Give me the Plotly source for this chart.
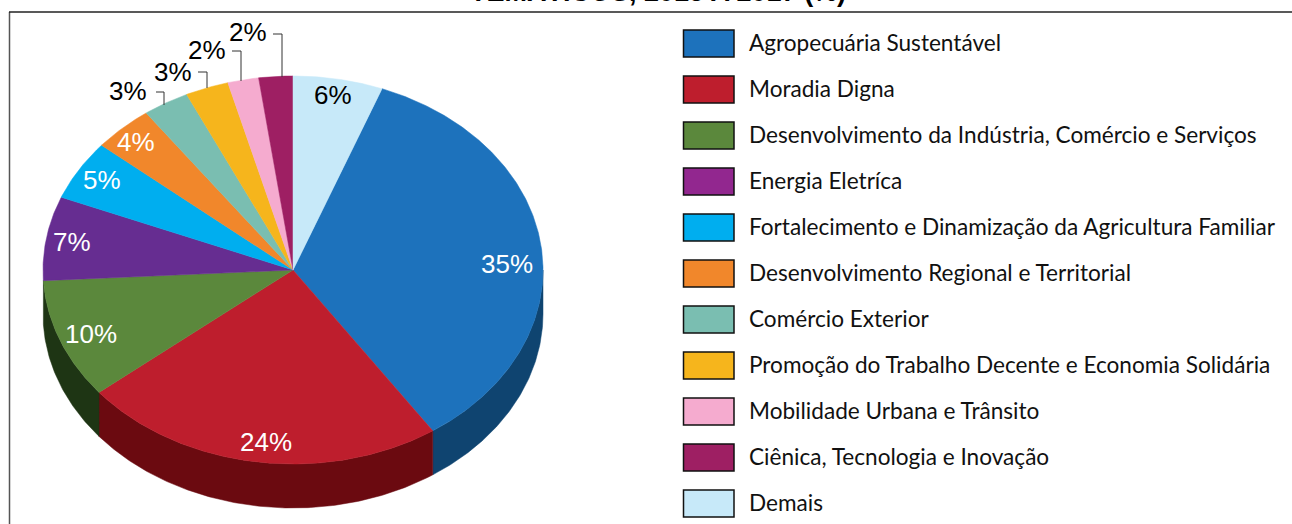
import numpy as np
import plotly.graph_objects as go

categories = ["Agropecuária Sustentável", "Moradia Digna", "Desenvolvimento da Indústria, Comércio e Serviços",
              "Energia Eletríca", "Fortalecimento e Dinamização da Agricultura Familiar",
              "Desenvolvimento Regional e Territorial", "Comércio Exterior",
              "Promoção do Trabalho Decente e Economia Solidária", "Mobilidade Urbana e Trânsito",
              "Ciênica, Tecnologia e Inovação", "Demais"]
values = [34.8, 23.6, 10.0, 7.0, 5.0, 3.9, 3.0, 2.8, 2.0, 2.2, 5.8]
labels = ["35%", "24%", "10%", "7%", "5%", "4%", "3%", "3%", "2%", "2%", "6%"]
title_text = "TEMÁTICOS, 2015 A 2017 (%)"

# styling (kept separate from the data)
pie_colors = ["#1D72BC", "#BE1E2D", "#5B883C", "#662D91", "#00AEEF", "#F1872B", "#7ABEB1", "#F6B51C", "#F5ABCF", "#9E1F63", "#C7E9F9"]
side_colors = ["#0F4470", "#6B0A10", "#1E3514", None, None, None, None, None, None, None, None]
swatch_colors = ["#1D72BC", "#BE1E2D", "#5B883C", "#92278F", "#00AEEF", "#F1872B", "#7ABEB1", "#F6B51C", "#F5ABCF", "#9E1F63", "#C7E9F9"]
label_colors = ["white"] * 6 + ["black"] * 4 + ["black"]
label_xy = [(507, 264), (266, 442), (91, 334), (72, 242), (102, 180), (136, 142), (128, 91), (173, 72), (207, 50), (248, 32), (333, 95)]
leaders = [([156, 164, 164], [92, 92, 105]), ([198, 207, 207], [72, 72, 88]), ([232, 241, 241], [51, 51, 81]), ([273, 282, 282], [34, 34, 77])]
CX, CY, RX, RY, DEPTH = 293, 270, 250, 194, 44

vals = np.array(values, dtype=float)
sweep = vals / vals.sum() * 2 * np.pi
starts = sweep[-1] + np.concatenate(([0], np.cumsum(sweep[:-1])))
ends = starts + sweep

def arc(a, b, dy=0.0):
    n = max(2, int(abs(b - a) / 0.01))
    t = np.linspace(a, b, n)
    return CX + RX * np.sin(t), CY - RY * np.cos(t) + dy

fig = go.Figure()

# extruded side walls (front half of the disc only)
for name, a, b, c in zip(categories, starts, ends, side_colors):
    if c is None:
        continue
    a0, b0 = max(a, np.pi / 2), min(b, 1.5 * np.pi)
    x1, y1 = arc(a0, b0)
    x2, y2 = arc(b0, a0, DEPTH)
    fig.add_trace(go.Scatter(x=np.r_[x1, x2, x1[0]], y=np.r_[y1, y2, y1[0]], mode="lines", fill="toself",
                             fillcolor=c, line=dict(color=c, width=0.5), name=name, hoverinfo="skip", showlegend=False))

# top face
for name, a, b, c, v in zip(categories, starts, ends, pie_colors, labels):
    x, y = arc(a, b)
    fig.add_trace(go.Scatter(x=np.r_[CX, x, CX], y=np.r_[CY, y, CY], mode="lines", fill="toself",
                             fillcolor=c, line=dict(color=c, width=0.5), name=name, text=v, hoverinfo="name+text", showlegend=False))

# leader lines
for lx, ly in leaders:
    fig.add_trace(go.Scatter(x=lx, y=ly, mode="lines", line=dict(color="#333333", width=1), hoverinfo="skip", showlegend=False))

ann = []
for (x, y), t, c in zip(label_xy, labels, label_colors):
    ann.append(dict(x=x, y=y, text=t, showarrow=False, xanchor="center", yanchor="middle",
                    font=dict(family="Liberation Sans", size=26, color=c)))

shapes = [
    dict(type="line", x0=9.5, x1=9.5, y0=12, y1=524, line=dict(color="#555555", width=1.5)),
    dict(type="line", x0=9, x1=1292, y0=12, y1=12, line=dict(color="#222222", width=1.5)),
]
for i, (name, c) in enumerate(zip(categories, swatch_colors)):
    top = 30 + 46 * i
    shapes.append(dict(type="rect", x0=683.5, x1=734, y0=top, y1=top + 27, fillcolor=c,
                       line=dict(color="#111111", width=1.5)))
    ann.append(dict(x=746.5, y=top + 12, text=name, showarrow=False, xanchor="left", yanchor="middle",
                    font=dict(family="Lato", size=22.6, color="#111111")))

ann.append(dict(x=658, y=9, text="<b>" + title_text + "</b>", showarrow=False, xanchor="center", yanchor="bottom",
                font=dict(family="Liberation Sans", size=27, color="black")))

fig.update_layout(width=1292, height=524, margin=dict(l=0, r=0, t=0, b=0), paper_bgcolor="white", plot_bgcolor="white",
                  xaxis=dict(range=[0, 1292], visible=False, fixedrange=True),
                  yaxis=dict(range=[524, 0], visible=False, fixedrange=True),
                  shapes=shapes, annotations=ann, showlegend=False)
fig.write_html("out.html", config=dict(displayModeBar=False),
               post_script="document.body.style.margin='0';document.documentElement.style.overflow='hidden';")
